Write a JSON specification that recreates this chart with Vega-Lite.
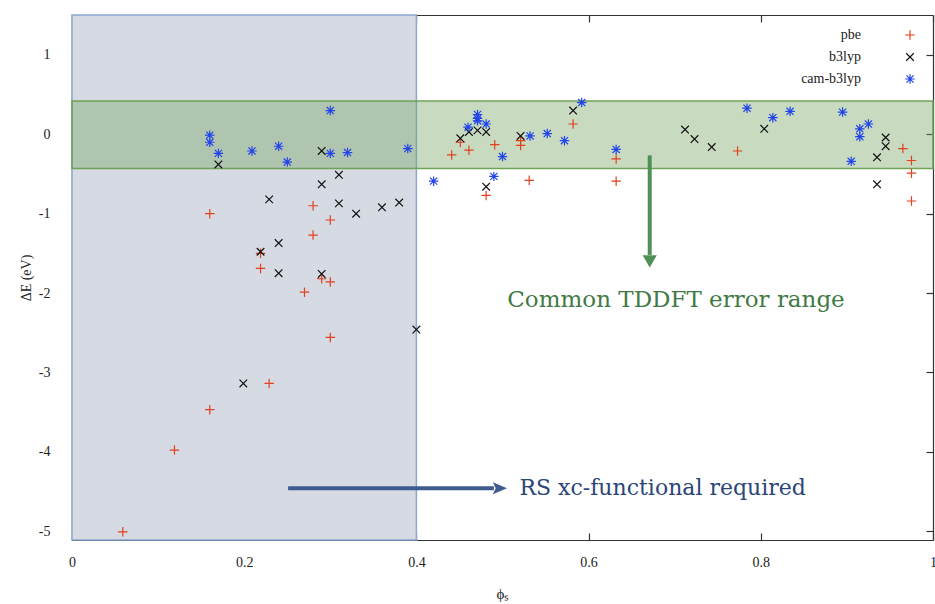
{
  "$schema": "https://vega.github.io/schema/vega-lite/v6.json",
  "width": 861,
  "height": 525,
  "autosize": {"type": "none"},
  "padding": {"left": 72, "top": 15, "right": 2, "bottom": 64},
  "background": "white",
  "config": {
    "view": {"stroke": null},
    "font": "Liberation Serif",
    "axis": {"grid": false, "labelFont": "Liberation Serif", "titleFont": "Liberation Serif", "labelFontSize": 14, "titleFontSize": 14, "labelColor": "#222", "titleColor": "#222", "titleFontWeight": "normal", "domainColor": "#333", "tickColor": "#333", "tickSize": -7, "domainWidth": 1.2, "tickWidth": 1.2},
    "legend": {"labelFont": "Liberation Serif", "labelFontSize": 14}
  },
  "datasets": {
    "points": [
      {"series": "pbe", "phi": 0.059, "dE": -5.01},
      {"series": "pbe", "phi": 0.119, "dE": -3.98},
      {"series": "pbe", "phi": 0.16, "dE": -3.47},
      {"series": "pbe", "phi": 0.16, "dE": -1.0},
      {"series": "pbe", "phi": 0.219, "dE": -1.5},
      {"series": "pbe", "phi": 0.219, "dE": -1.69},
      {"series": "pbe", "phi": 0.229, "dE": -3.14},
      {"series": "pbe", "phi": 0.27, "dE": -1.99},
      {"series": "pbe", "phi": 0.28, "dE": -0.9},
      {"series": "pbe", "phi": 0.28, "dE": -1.27},
      {"series": "pbe", "phi": 0.29, "dE": -1.82},
      {"series": "pbe", "phi": 0.3, "dE": -1.08},
      {"series": "pbe", "phi": 0.3, "dE": -1.86},
      {"series": "pbe", "phi": 0.3, "dE": -2.56},
      {"series": "pbe", "phi": 0.441, "dE": -0.26},
      {"series": "pbe", "phi": 0.451, "dE": -0.1},
      {"series": "pbe", "phi": 0.461, "dE": -0.2},
      {"series": "pbe", "phi": 0.481, "dE": -0.77},
      {"series": "pbe", "phi": 0.491, "dE": -0.13},
      {"series": "pbe", "phi": 0.521, "dE": -0.08},
      {"series": "pbe", "phi": 0.521, "dE": -0.14},
      {"series": "pbe", "phi": 0.531, "dE": -0.58},
      {"series": "pbe", "phi": 0.582, "dE": 0.13},
      {"series": "pbe", "phi": 0.632, "dE": -0.31},
      {"series": "pbe", "phi": 0.632, "dE": -0.59},
      {"series": "pbe", "phi": 0.773, "dE": -0.21},
      {"series": "pbe", "phi": 0.965, "dE": -0.18},
      {"series": "pbe", "phi": 0.975, "dE": -0.33},
      {"series": "pbe", "phi": 0.975, "dE": -0.49},
      {"series": "pbe", "phi": 0.975, "dE": -0.84},
      {"series": "b3lyp", "phi": 0.17, "dE": -0.38},
      {"series": "b3lyp", "phi": 0.199, "dE": -3.14},
      {"series": "b3lyp", "phi": 0.219, "dE": -1.48},
      {"series": "b3lyp", "phi": 0.229, "dE": -0.82},
      {"series": "b3lyp", "phi": 0.24, "dE": -1.37},
      {"series": "b3lyp", "phi": 0.24, "dE": -1.75},
      {"series": "b3lyp", "phi": 0.29, "dE": -0.21},
      {"series": "b3lyp", "phi": 0.29, "dE": -0.63},
      {"series": "b3lyp", "phi": 0.29, "dE": -1.76},
      {"series": "b3lyp", "phi": 0.31, "dE": -0.51},
      {"series": "b3lyp", "phi": 0.31, "dE": -0.87},
      {"series": "b3lyp", "phi": 0.33, "dE": -1.0},
      {"series": "b3lyp", "phi": 0.36, "dE": -0.92},
      {"series": "b3lyp", "phi": 0.38, "dE": -0.86},
      {"series": "b3lyp", "phi": 0.4, "dE": -2.46},
      {"series": "b3lyp", "phi": 0.451, "dE": -0.05},
      {"series": "b3lyp", "phi": 0.461, "dE": 0.03},
      {"series": "b3lyp", "phi": 0.471, "dE": 0.05},
      {"series": "b3lyp", "phi": 0.481, "dE": 0.03},
      {"series": "b3lyp", "phi": 0.481, "dE": -0.66},
      {"series": "b3lyp", "phi": 0.521, "dE": -0.02},
      {"series": "b3lyp", "phi": 0.582, "dE": 0.3},
      {"series": "b3lyp", "phi": 0.712, "dE": 0.06},
      {"series": "b3lyp", "phi": 0.723, "dE": -0.06},
      {"series": "b3lyp", "phi": 0.743, "dE": -0.16},
      {"series": "b3lyp", "phi": 0.804, "dE": 0.07},
      {"series": "b3lyp", "phi": 0.935, "dE": -0.29},
      {"series": "b3lyp", "phi": 0.935, "dE": -0.63},
      {"series": "b3lyp", "phi": 0.945, "dE": -0.04},
      {"series": "b3lyp", "phi": 0.945, "dE": -0.15},
      {"series": "cam-b3lyp", "phi": 0.16, "dE": -0.01},
      {"series": "cam-b3lyp", "phi": 0.16, "dE": -0.1},
      {"series": "cam-b3lyp", "phi": 0.17, "dE": -0.24},
      {"series": "cam-b3lyp", "phi": 0.209, "dE": -0.21},
      {"series": "cam-b3lyp", "phi": 0.24, "dE": -0.15},
      {"series": "cam-b3lyp", "phi": 0.25, "dE": -0.35},
      {"series": "cam-b3lyp", "phi": 0.3, "dE": 0.3},
      {"series": "cam-b3lyp", "phi": 0.3, "dE": -0.24},
      {"series": "cam-b3lyp", "phi": 0.32, "dE": -0.23},
      {"series": "cam-b3lyp", "phi": 0.39, "dE": -0.18},
      {"series": "cam-b3lyp", "phi": 0.42, "dE": -0.59},
      {"series": "cam-b3lyp", "phi": 0.46, "dE": 0.09},
      {"series": "cam-b3lyp", "phi": 0.471, "dE": 0.25},
      {"series": "cam-b3lyp", "phi": 0.471, "dE": 0.2},
      {"series": "cam-b3lyp", "phi": 0.471, "dE": 0.17},
      {"series": "cam-b3lyp", "phi": 0.481, "dE": 0.13},
      {"series": "cam-b3lyp", "phi": 0.49, "dE": -0.53},
      {"series": "cam-b3lyp", "phi": 0.5, "dE": -0.28},
      {"series": "cam-b3lyp", "phi": 0.532, "dE": -0.02},
      {"series": "cam-b3lyp", "phi": 0.552, "dE": 0.01},
      {"series": "cam-b3lyp", "phi": 0.572, "dE": -0.08},
      {"series": "cam-b3lyp", "phi": 0.592, "dE": 0.4},
      {"series": "cam-b3lyp", "phi": 0.632, "dE": -0.19},
      {"series": "cam-b3lyp", "phi": 0.784, "dE": 0.33},
      {"series": "cam-b3lyp", "phi": 0.814, "dE": 0.21},
      {"series": "cam-b3lyp", "phi": 0.834, "dE": 0.29},
      {"series": "cam-b3lyp", "phi": 0.895, "dE": 0.28},
      {"series": "cam-b3lyp", "phi": 0.905, "dE": -0.34},
      {"series": "cam-b3lyp", "phi": 0.915, "dE": 0.07},
      {"series": "cam-b3lyp", "phi": 0.915, "dE": -0.03},
      {"series": "cam-b3lyp", "phi": 0.925, "dE": 0.13}
    ],
    "grayRegion": [{"x1": 0, "x2": 0.4, "y1": -5.113, "y2": 1.504}],
    "greenBand": [{"x1": 0, "x2": 1, "y1": -0.43, "y2": 0.42}],
    "greenArrow": [{"x": 0.671, "y1": -0.265, "y2": -1.52, "head": -1.6}],
    "blueArrow": [{"x1": 0.251, "x2": 0.49, "y": -4.46, "head": 0.497}],
    "greenLabel": [{"x": 0.7015, "y": -2.09, "text": "Common TDDFT error range"}],
    "blueLabel": [{"x": 0.686, "y": -4.46, "text": "RS xc-functional required"}]
  },
  "resolve": {"axis": {"x": "independent", "y": "independent"}},
  "layer": [
    {
      "data": {"name": "grayRegion"},
      "mark": {"type": "rect", "fill": "#d6dae3", "stroke": "#8ca8cf", "strokeWidth": 1.5},
      "encoding": {
        "x": {"field": "x1", "type": "quantitative", "scale": {"domain": [0, 1], "nice": false, "zero": false},
              "axis": {"orient": "bottom", "values": [0, 0.2, 0.4, 0.6, 0.8, 1], "labelExpr": "'' + datum.value", "title": "ϕₛ", "titleFontSize": 15, "labelPadding": 22, "titlePadding": 17, "labelFlush": false}},
        "x2": {"field": "x2"},
        "y": {"field": "y1", "type": "quantitative", "scale": {"domain": [-5.113, 1.504], "nice": false, "zero": false},
              "axis": {"orient": "left", "values": [-5, -4, -3, -2, -1, 0, 1], "labelExpr": "'' + datum.value", "title": "ΔE (eV)", "labelPadding": 29, "titlePadding": 5}},
        "y2": {"field": "y2"}
      }
    },
    {
      "data": {"name": "greenBand"},
      "mark": {"type": "rect", "fill": "#76a565", "fillOpacity": 0.4, "stroke": "#6ea455", "strokeWidth": 1.5},
      "encoding": {
        "x": {"field": "x1", "type": "quantitative", "axis": {"orient": "top", "values": [0, 0.2, 0.4, 0.6, 0.8, 1], "labels": false, "title": null}},
        "x2": {"field": "x2"},
        "y": {"field": "y1", "type": "quantitative", "axis": {"orient": "right", "values": [-5, -4, -3, -2, -1, 0, 1], "labels": false, "title": null}},
        "y2": {"field": "y2"}
      }
    },
    {
      "data": {"name": "points"},
      "mark": {"type": "point", "filled": false, "strokeWidth": 1.2, "size": 90, "opacity": 1},
      "encoding": {
        "x": {"field": "phi", "type": "quantitative", "axis": null},
        "y": {"field": "dE", "type": "quantitative", "axis": null},
        "color": {"field": "series", "type": "nominal",
          "scale": {"domain": ["pbe", "b3lyp", "cam-b3lyp"], "range": ["#e2401f", "#111111", "#2244e8"]},
          "legend": {"title": null, "orient": "none", "legendX": 831, "legendY": 13, "labelAlign": "right", "labelOffset": -56, "labelColor": "#222", "symbolStrokeWidth": 1.2, "symbolSize": 90, "rowPadding": 7, "padding": 0}},
        "shape": {"field": "series", "type": "nominal",
          "scale": {"domain": ["pbe", "b3lyp", "cam-b3lyp"], "range": ["M-1,0H1M0,-1V1", "M-0.8,-0.8L0.8,0.8M-0.8,0.8L0.8,-0.8", "M-1,0H1M0,-1V1M-0.75,-0.75L0.75,0.75M-0.75,0.75L0.75,-0.75"]},
          "legend": {"title": null, "orient": "none", "legendX": 831, "legendY": 13, "labelAlign": "right", "labelOffset": -56, "labelColor": "#222", "symbolStrokeWidth": 1.2, "symbolSize": 90, "rowPadding": 7, "padding": 0}}
      }
    },
    {
      "data": {"name": "greenArrow"},
      "mark": {"type": "rule", "color": "#4f9057", "strokeWidth": 4},
      "encoding": {
        "x": {"field": "x", "type": "quantitative", "axis": null},
        "y": {"field": "y1", "type": "quantitative", "axis": null},
        "y2": {"field": "y2"}
      }
    },
    {
      "data": {"name": "greenArrow"},
      "mark": {"type": "point", "shape": "triangle-down", "filled": true, "color": "#4f9057", "size": 200, "opacity": 1},
      "encoding": {
        "x": {"field": "x", "type": "quantitative", "axis": null},
        "y": {"field": "head", "type": "quantitative", "axis": null}
      }
    },
    {
      "data": {"name": "blueArrow"},
      "mark": {"type": "rule", "color": "#3e5c8e", "strokeWidth": 4},
      "encoding": {
        "x": {"field": "x1", "type": "quantitative", "axis": null},
        "x2": {"field": "x2"},
        "y": {"field": "y", "type": "quantitative", "axis": null}
      }
    },
    {
      "data": {"name": "blueArrow"},
      "mark": {"type": "point", "shape": "M-1,-0.85L1,0L-1,0.85L-0.6,0Z", "filled": true, "color": "#3e5c8e", "size": 200, "opacity": 1},
      "encoding": {
        "x": {"field": "head", "type": "quantitative", "axis": null},
        "y": {"field": "y", "type": "quantitative", "axis": null}
      }
    },
    {
      "data": {"name": "greenLabel"},
      "mark": {"type": "text", "font": "DejaVu Serif", "fontSize": 23, "baseline": "middle", "align": "center", "color": "#3f7a44"},
      "encoding": {
        "x": {"field": "x", "type": "quantitative", "axis": null},
        "y": {"field": "y", "type": "quantitative", "axis": null},
        "text": {"field": "text"}
      }
    },
    {
      "data": {"name": "blueLabel"},
      "mark": {"type": "text", "font": "DejaVu Serif", "fontSize": 22, "baseline": "middle", "align": "center", "color": "#2b4677"},
      "encoding": {
        "x": {"field": "x", "type": "quantitative", "axis": null},
        "y": {"field": "y", "type": "quantitative", "axis": null},
        "text": {"field": "text"}
      }
    }
  ]
}
